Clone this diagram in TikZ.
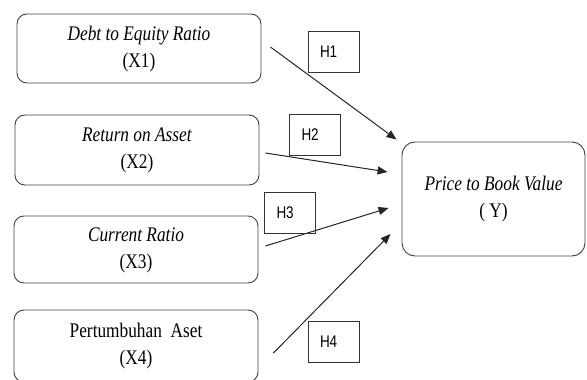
\documentclass[tikz,border=0pt]{standalone}
\usepackage{fontspec}
\setmainfont{Liberation Serif}
\newfontfamily\hlabfont{Liberation Sans}
\usepackage{graphicx}
\usetikzlibrary{arrows.meta,calc}
\newcommand\mybodyfont{\fontsize{17.3}{22.5}\selectfont}
\newcommand\mytxt[1]{\raisebox{-4pt}{\scalebox{1}[1.2]{\mybodyfont\begin{tabular}{@{}c@{}}#1\end{tabular}}}}
\newcommand\myhtxt[1]{\scalebox{1}[1.25]{\hlabfont\fontsize{13.5}{15}\selectfont #1}}
\begin{document}
\begin{tikzpicture}[x=1pt,y=-1pt,
  varbox/.style={draw=black!75, line width=0.9pt, rounded corners=10pt, minimum width=244pt, inner sep=0pt},
  ybox/.style={draw=black!75, line width=0.9pt, rounded corners=13pt, minimum width=183pt, minimum height=114pt, inner sep=0pt},
  hbox/.style={draw=black!80, line width=0.8pt, minimum height=41pt, text width=27pt, inner xsep=12pt, inner ysep=0pt, align=left},
  conn/.style={draw=black!85, line width=1pt, -{Triangle[length=10pt,width=8pt]}}]
\useasboundingbox (0,0) rectangle (587,380);

\node[varbox, minimum height=69pt] (X1) at (139,48.5) {\mytxt{\textit{Debt to Equity Ratio}\\(X1)}};
\node[varbox, minimum height=70pt] (X2) at (137,150) {\mytxt{\textit{Return on Asset}\\(X2)}};
\node[varbox, minimum height=67pt] (X3) at (136,249.5) {\mytxt{\textit{Current Ratio}\\(X3)}};
\node[varbox, minimum height=72pt] (X4) at (136,346) {\mytxt{Pertumbuhan\ \ Aset\\(X4)}};
\node[ybox] (Y) at (493.5,199) {\mytxt{\textit{Price to Book Value}\\( Y)}};

\coordinate (s1) at ($(X1.east)+(9,-1.5)$);
\coordinate (s2) at ($(X2.east)+(6,3)$);
\coordinate (s3) at ($(X3.east)+(7,-3.5)$);
\coordinate (s4) at ($(X4.east)+(15,7)$);
\coordinate (e1) at ($(Y.north west)+(-5,-2)$);
\coordinate (e2) at ($(Y.west)+(-14,-27)$);
\coordinate (e3) at ($(Y.west)+(-13,9)$);
\coordinate (e4) at ($(Y.west)+(-11,35)$);

\draw[conn] (s1) -- (e1);
\draw[conn] (s2) -- (e2);
\draw[conn] (s3) -- (e3);
\draw[conn] (s4) -- (e4);

\node[hbox] (H1) at (333.5,51.5) {\myhtxt{H1}};
\node[hbox] (H2) at (315,134.5) {\myhtxt{H2}};
\node[hbox] (H3) at (290,212.5) {\myhtxt{H3}};
\node[hbox] (H4) at (333.5,342) {\myhtxt{H4}};
\end{tikzpicture}
\end{document}
